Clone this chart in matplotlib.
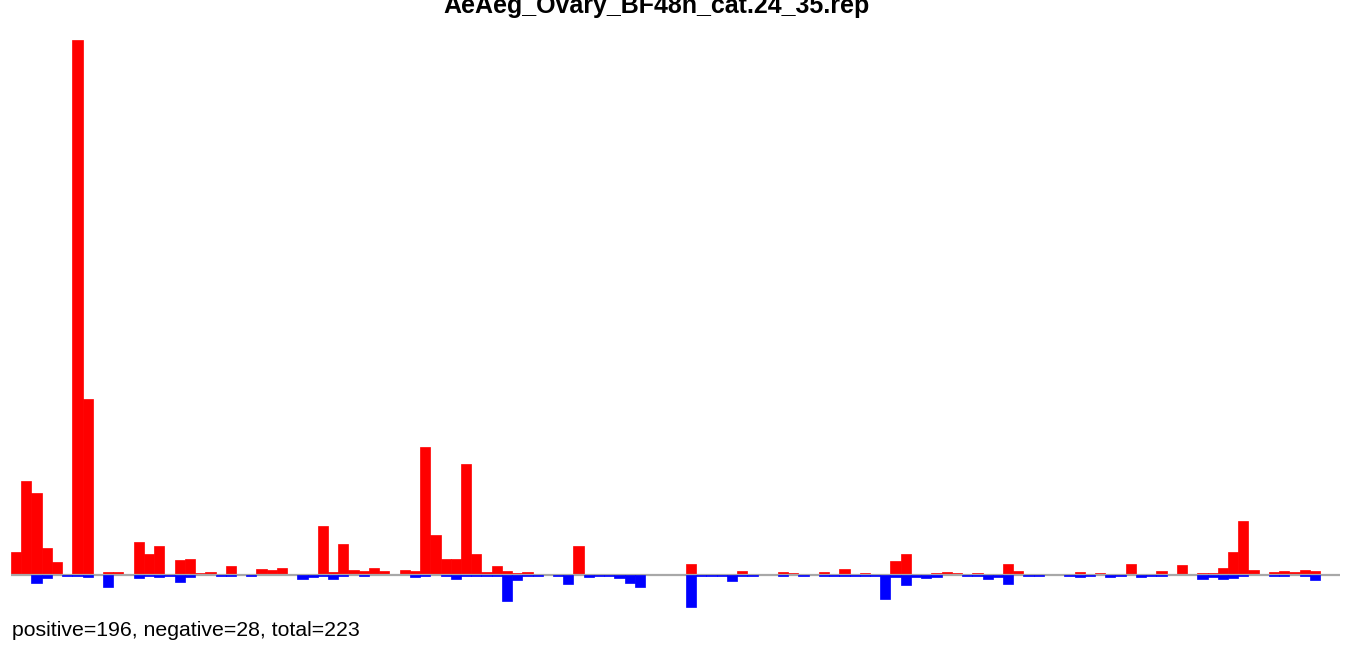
import matplotlib
matplotlib.use("Agg")
import matplotlib.pyplot as plt
import numpy as np

title = "AeAeg_Ovary_BF48h_cat.24_35.rep"
footer = "positive=196, negative=28, total=223"

positive = [23, 94, 82, 27, 13, 0, 535, 176, 0, 3,
            3, 1, 33, 21, 29, 0, 15, 16, 2, 3,
            0, 9, 0.7, 0, 6, 5, 7, 0.7, 0, 0,
            49, 3, 31, 5, 4, 7, 4, 1, 5, 4,
            128, 40, 16, 16, 111, 21, 3, 9, 4, 2,
            3, 0.7, 0, 0, 0.7, 29, 0, 0, 0, 0.7,
            0.7, 0, 0, 0, 0.7, 0, 11, 0, 0, 0,
            0.7, 4, 0, 0.7, 0.7, 3, 2, 0, 0.7, 3,
            0, 6, 0.7, 2, 0.7, 0.7, 14, 21, 0.7, 0,
            2, 3, 2, 0, 2, 0.7, 0.7, 11, 4, 0,
            0, 0.7, 0, 0, 3, 0.7, 2, 0.7, 0, 11,
            0.7, 0, 4, 0, 10, 0.7, 2, 2, 7, 23,
            54, 5, 0, 3, 4, 3, 5, 4]

negative = [0, 0, 8, 2.7, 0, 0.7, 0.7, 2, 0, 11.7,
            0, 0, 2.7, 0.7, 1.7, 0.7, 7, 1.7, 0, 0,
            0.7, 1, 0, 0.7, 0, 0, 0, 0, 4, 2,
            0.7, 4, 0.7, 0, 1, 0, 0, 0, 0, 2,
            0.7, 0, 0.7, 4, 0.7, 1, 0.7, 0.7, 26, 5,
            0.7, 0.7, 0, 1, 9, 0, 2, 0.7, 0.7, 3,
            8, 12, 0, 0, 0, 0, 32, 1, 1, 1,
            6, 0.7, 0.7, 0, 0, 1, 0, 0.7, 0, 0.7,
            0.7, 0.7, 0.7, 0.7, 0.7, 24, 2, 10, 2, 3,
            2, 0, 0, 0.7, 0.7, 4, 2, 9, 0, 1,
            0.7, 0, 0, 0.7, 2, 1, 0, 2, 0.7, 0,
            2, 0.7, 0.7, 0, 0, 0, 4, 2, 4, 3,
            0.7, 0, 0, 0.7, 0.7, 0, 0.7, 5]

W, H = 1352, 645
fig = plt.figure(figsize=(W / 100, H / 100), dpi=100)

n = len(positive)
bar_px = (1320 - 11) / n
left_px, right_px = 11, 1340
top_px, bot_px = 40, 612
ax = fig.add_axes([left_px / W, 1 - bot_px / H, (right_px - left_px) / W, (bot_px - top_px) / H])

x = np.arange(n)
pos = np.array(positive, dtype=float)
neg = -np.array(negative, dtype=float)

pm = pos > 0
ax.bar(x[pm], pos[pm], width=1.0, align='edge', color='#ff0000', edgecolor='#ff0000', linewidth=0.5, zorder=1)
ax.axhline(0, color='#a8a8a8', linewidth=1.6, zorder=2)
nm = neg < 0
ax.bar(x[nm], neg[nm], width=1.0, align='edge', color='#0000ff', edgecolor='#0000ff', linewidth=0.5, zorder=3)

ax.set_xlim(0, (right_px - left_px) / bar_px)
ax.set_ylim(-(bot_px - 575), 575 - top_px)
ax.axis('off')

fig.text(657 / W, 1 - 13 / H, title, ha='center', va='baseline', fontsize=18,
         fontweight='bold', family='Liberation Sans')
fig.text(12 / W, 1 - 636 / H, footer, ha='left', va='baseline', fontsize=15.3,
         family='Liberation Sans')

fig.savefig("out.png", dpi=100)
